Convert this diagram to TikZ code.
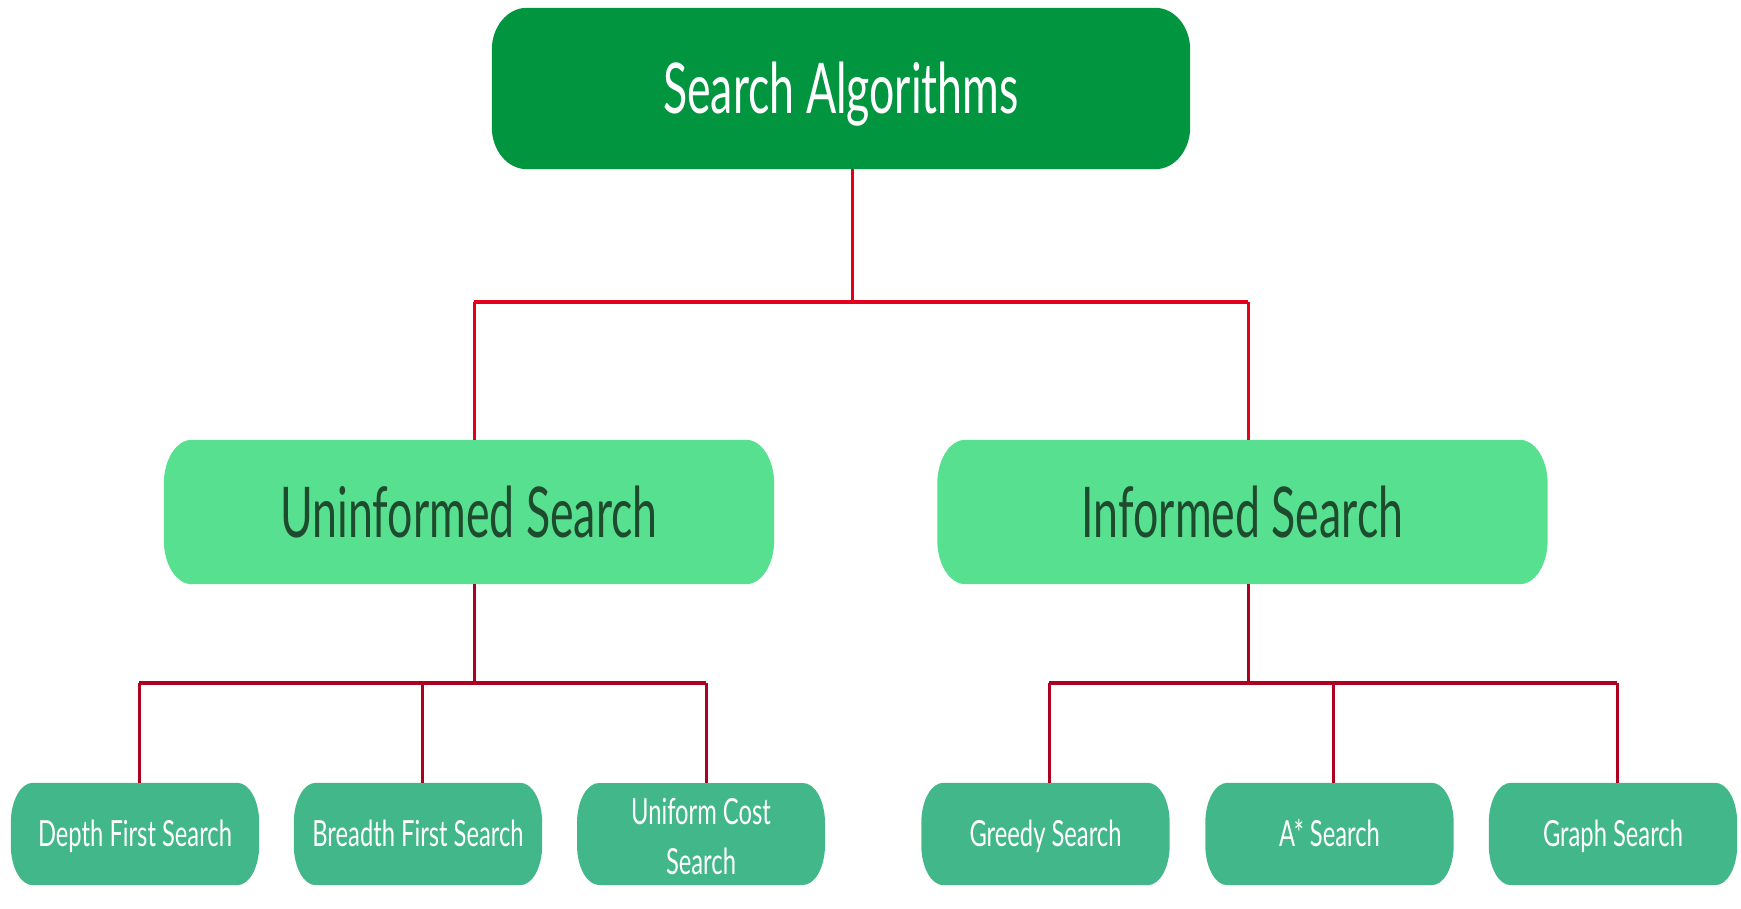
\documentclass[tikz,border=0pt]{standalone}
\usepackage{fontspec}
\newfontfamily\lato[FakeStretch=0.66]{Lato}
\newfontfamily\latobig[FakeStretch=0.638]{Lato}
\usetikzlibrary{calc,backgrounds}
\definecolor{topgreen}{HTML}{00953E}
\definecolor{midgreen}{HTML}{57E08F}
\definecolor{lowgreen}{HTML}{42B88A}
\definecolor{midtext}{HTML}{1E4A2D}
\definecolor{upred}{HTML}{E2001A}
\definecolor{lowred}{HTML}{AE0020}

% pill-shaped background with elliptical corners behind a named node
\newcommand\pillfill[4]{%
  \fill[#4] ($(#1.north west)+(0,-#3)$)
    arc[start angle=180,end angle=90,x radius=#2,y radius=#3]
    -- ($(#1.north east)+(-#2,0)$)
    arc[start angle=90,end angle=0,x radius=#2,y radius=#3]
    -- ($(#1.south east)+(0,#3)$)
    arc[start angle=0,end angle=-90,x radius=#2,y radius=#3]
    -- ($(#1.south west)+(#2,0)$)
    arc[start angle=270,end angle=180,x radius=#2,y radius=#3]
    -- cycle;}

\begin{document}
\begin{tikzpicture}[x=1pt,y=-1pt,
  box/.style={inner sep=0pt,align=center},
  topbox/.style={box,minimum width=698pt,minimum height=161pt,text=white,
    font=\latobig\fontsize{70}{80}\selectfont,text height=50.2pt,text depth=0pt},
  midbox/.style={box,minimum width=610pt,minimum height=144pt,text=midtext,
    font=\latobig\fontsize{70}{80}\selectfont,text height=50.2pt,text depth=0pt},
  leafbox/.style={box,minimum width=248pt,minimum height=102pt,text=white,
    font=\lato\fontsize{36}{50}\selectfont},
  oneline/.style={text height=25.8pt,text depth=0pt},
  upline/.style={draw=upred,line width=3pt},
  uphline/.style={draw=upred,line width=4.5pt},
  lowline/.style={draw=lowred,line width=3pt},
  lowhline/.style={draw=lowred,line width=4pt}]
\useasboundingbox (0,0) rectangle (1741,909);

% nodes
\node[topbox] (top) at (841,88.5) {Search Algorithms};
\node[midbox] (un)  at (469,512) {Uninformed Search};
\node[midbox] (inf) at (1242.5,512) {Informed Search};
\node[leafbox,oneline] (dfs) at (135,834) {Depth First Search};
\node[leafbox,oneline] (bfs) at (418,834) {Breadth First Search};
\node[leafbox,yshift=-2.5pt] (ucs) at (701,834) {Uniform Cost\\Search};
\node[leafbox,oneline] (gs)  at (1045.5,834) {Greedy Search};
\node[leafbox,oneline] (as)  at (1329.5,834) {A* Search};
\node[leafbox,oneline] (grs) at (1613,834) {Graph Search};

\begin{pgfonlayer}{background}
  \pillfill{top}{35pt}{42pt}{topgreen}
  \pillfill{un}{28pt}{44pt}{midgreen}
  \pillfill{inf}{28pt}{44pt}{midgreen}
  \foreach \n in {dfs,bfs,gs,as,grs}{\pillfill{\n}{22pt}{40pt}{lowgreen}}
  % the two-line leaf is shifted for its text only; its shape stays in the row
  \fill[lowgreen] (577,823) arc[start angle=180,end angle=90,x radius=22pt,y radius=40pt]
    -- (803,783) arc[start angle=90,end angle=0,x radius=22pt,y radius=40pt]
    -- (825,845) arc[start angle=0,end angle=-90,x radius=22pt,y radius=40pt]
    -- (599,885) arc[start angle=270,end angle=180,x radius=22pt,y radius=40pt]
    -- cycle;
\end{pgfonlayer}

% junction points of the tree
\coordinate (j0) at (852,302);
\coordinate (jl) at (474,302);
\coordinate (jr) at (1248,302);
\coordinate (k1) at (474,683);
\coordinate (k1a) at (139,683);
\coordinate (k1b) at (422,683);
\coordinate (k1c) at (706,683);
\coordinate (k2) at (1248,683);
\coordinate (k2a) at (1049,683);
\coordinate (k2b) at (1333,683);
\coordinate (k2c) at (1617,683);

% upper connectors
\draw[upline] (top.south -| j0) -- (j0);
\draw[uphline] (jl) -- (jr);
\draw[upline] (jl) -- (jl |- un.north);
\draw[upline] (jr) -- (jr |- inf.north);

% lower connectors
\draw[lowline] (un.south -| k1) -- (k1);
\draw[lowhline] (k1a) -- (k1c);
\draw[lowline] (k1a) -- (k1a |- dfs.north);
\draw[lowline] (k1b) -- (k1b |- bfs.north);
\draw[lowline] (k1c) -- (k1c |- dfs.north);
\draw[lowline] (inf.south -| k2) -- (k2);
\draw[lowhline] (k2a) -- (k2c);
\draw[lowline] (k2a) -- (k2a |- gs.north);
\draw[lowline] (k2b) -- (k2b |- as.north);
\draw[lowline] (k2c) -- (k2c |- grs.north);
\end{tikzpicture}
\end{document}
